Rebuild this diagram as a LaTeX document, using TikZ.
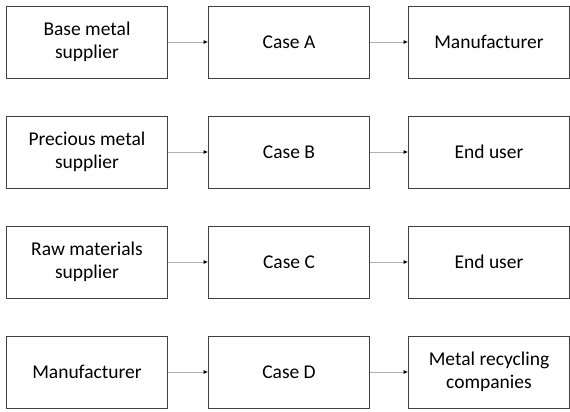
\documentclass[tikz,border=0pt]{standalone}
\usepackage{fontspec}
\setmainfont{Carlito}
\usetikzlibrary{arrows.meta}
\begin{document}
\begin{tikzpicture}[x=1pt,y=-1pt,
		box/.style={draw=black!75, line width=0.8pt, minimum width=161pt, minimum height=72pt, inner sep=0pt, align=center, font=\fontsize{19.5}{22.5}\selectfont},
		flow/.style={draw=black!30, line width=0.9pt, -{Latex[black,length=4.5pt,width=4pt]}}]
		\useasboundingbox (0,0) rectangle (570,412);
		% sources
		\node[box] (srcA) at (87,42) {Base metal\\supplier};
		\node[box] (srcB) at (87,152) {Precious metal\\supplier};
		\node[box] (srcC) at (87,262) {Raw materials\\supplier};
		\node[box] (srcD) at (87,372) {Manufacturer};
		% cases
		\node[box] (caseA) at (289,42) {Case A};
		\node[box] (caseB) at (289,152) {Case B};
		\node[box] (caseC) at (289,262) {Case C};
		\node[box] (caseD) at (289,372) {Case D};
		% receivers
		\node[box] (dstA) at (489,42) {Manufacturer};
		\node[box] (dstB) at (489,152) {End user};
		\node[box] (dstC) at (489,262) {End user};
		\node[box] (dstD) at (489,372) {Metal recycling\\companies};
		\foreach \r in {A,B,C,D} {
			\draw[flow] (src\r) -- (case\r);
			\draw[flow] (case\r) -- (dst\r);
		}
	\end{tikzpicture}
\end{document}
